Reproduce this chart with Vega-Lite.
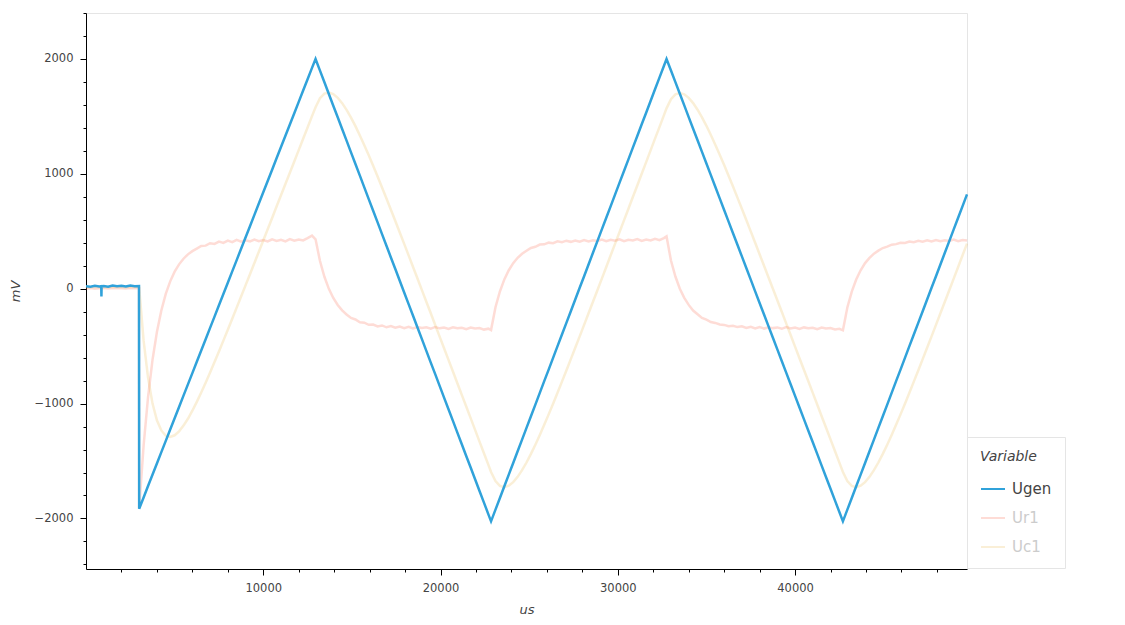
{
  "$schema": "https://vega.github.io/schema/vega-lite/v6.json",
  "width": 881,
  "height": 556,
  "autosize": {"type": "none"},
  "padding": {"left": 86, "top": 13, "right": 158, "bottom": 56},
  "background": "white",
  "config": {
    "font": "DejaVu Sans",
    "view": {"stroke": "#e5e5e5", "strokeWidth": 1}
  },
  "data": {
    "values": [
      {"t": 0, "Ugen": 22, "Ur1": 2, "Uc1": 14},
      {"t": 250, "Ugen": 18, "Ur1": 6, "Uc1": 12},
      {"t": 500, "Ugen": 26, "Ur1": 0, "Uc1": 16},
      {"t": 750, "Ugen": 20, "Ur1": 4, "Uc1": 13},
      {"t": 860, "Ugen": 22, "Ur1": 3, "Uc1": 13},
      {"t": 870, "Ugen": -68, "Ur1": 3, "Uc1": 13},
      {"t": 880, "Ugen": 20, "Ur1": 3, "Uc1": 13},
      {"t": 1000, "Ugen": 24, "Ur1": 5, "Uc1": 15},
      {"t": 1250, "Ugen": 17, "Ur1": 1, "Uc1": 12},
      {"t": 1500, "Ugen": 28, "Ur1": 7, "Uc1": 17},
      {"t": 1750, "Ugen": 21, "Ur1": 3, "Uc1": 14},
      {"t": 2000, "Ugen": 25, "Ur1": 4, "Uc1": 15},
      {"t": 2250, "Ugen": 19, "Ur1": 2, "Uc1": 13},
      {"t": 2500, "Ugen": 27, "Ur1": 6, "Uc1": 16},
      {"t": 2750, "Ugen": 22, "Ur1": 4, "Uc1": 14},
      {"t": 2990, "Ugen": 24, "Ur1": 5, "Uc1": 15},
      {"t": 3000, "Ugen": -1915, "Ur1": -1915, "Uc1": 10},
      {"t": 3250, "Ugen": -1817, "Ur1": -1365, "Uc1": -452},
      {"t": 3500, "Ugen": -1718, "Ur1": -944, "Uc1": -774},
      {"t": 3750, "Ugen": -1620, "Ur1": -622, "Uc1": -998},
      {"t": 4000, "Ugen": -1522, "Ur1": -377, "Uc1": -1145},
      {"t": 4250, "Ugen": -1423, "Ur1": -189, "Uc1": -1234},
      {"t": 4500, "Ugen": -1325, "Ur1": -45, "Uc1": -1280},
      {"t": 4750, "Ugen": -1226, "Ur1": 64, "Uc1": -1290},
      {"t": 5000, "Ugen": -1128, "Ur1": 148, "Uc1": -1276},
      {"t": 5250, "Ugen": -1030, "Ur1": 212, "Uc1": -1242},
      {"t": 5500, "Ugen": -931, "Ur1": 261, "Uc1": -1192},
      {"t": 5750, "Ugen": -833, "Ur1": 299, "Uc1": -1132},
      {"t": 6000, "Ugen": -735, "Ur1": 327, "Uc1": -1062},
      {"t": 6250, "Ugen": -636, "Ur1": 349, "Uc1": -985},
      {"t": 6500, "Ugen": -538, "Ur1": 372, "Uc1": -904},
      {"t": 6750, "Ugen": -440, "Ur1": 375, "Uc1": -819},
      {"t": 7000, "Ugen": -341, "Ur1": 396, "Uc1": -729},
      {"t": 7250, "Ugen": -243, "Ur1": 390, "Uc1": -639},
      {"t": 7500, "Ugen": -144, "Ur1": 410, "Uc1": -546},
      {"t": 7750, "Ugen": -46, "Ur1": 398, "Uc1": -452},
      {"t": 8000, "Ugen": 52, "Ur1": 418, "Uc1": -357},
      {"t": 8250, "Ugen": 151, "Ur1": 405, "Uc1": -261},
      {"t": 8500, "Ugen": 249, "Ur1": 425, "Uc1": -165},
      {"t": 8750, "Ugen": 348, "Ur1": 410, "Uc1": -68},
      {"t": 9000, "Ugen": 446, "Ur1": 422, "Uc1": 29},
      {"t": 9250, "Ugen": 544, "Ur1": 412, "Uc1": 126},
      {"t": 9500, "Ugen": 643, "Ur1": 428, "Uc1": 224},
      {"t": 9750, "Ugen": 741, "Ur1": 414, "Uc1": 322},
      {"t": 10000, "Ugen": 839, "Ur1": 424, "Uc1": 419},
      {"t": 10250, "Ugen": 938, "Ur1": 411, "Uc1": 518},
      {"t": 10500, "Ugen": 1036, "Ur1": 430, "Uc1": 616},
      {"t": 10750, "Ugen": 1135, "Ur1": 416, "Uc1": 715},
      {"t": 11000, "Ugen": 1233, "Ur1": 426, "Uc1": 813},
      {"t": 11250, "Ugen": 1331, "Ur1": 412, "Uc1": 911},
      {"t": 11500, "Ugen": 1430, "Ur1": 432, "Uc1": 1010},
      {"t": 11750, "Ugen": 1528, "Ur1": 418, "Uc1": 1108},
      {"t": 12000, "Ugen": 1626, "Ur1": 428, "Uc1": 1206},
      {"t": 12250, "Ugen": 1725, "Ur1": 420, "Uc1": 1305},
      {"t": 12500, "Ugen": 1823, "Ur1": 440, "Uc1": 1403},
      {"t": 12750, "Ugen": 1922, "Ur1": 462, "Uc1": 1502},
      {"t": 12950, "Ugen": 2000, "Ur1": 430, "Uc1": 1580},
      {"t": 13200, "Ugen": 1898, "Ur1": 241, "Uc1": 1658},
      {"t": 13450, "Ugen": 1797, "Ur1": 104, "Uc1": 1698},
      {"t": 13700, "Ugen": 1695, "Ur1": -1, "Uc1": 1708},
      {"t": 13950, "Ugen": 1593, "Ur1": -81, "Uc1": 1694},
      {"t": 14200, "Ugen": 1492, "Ur1": -142, "Uc1": 1662},
      {"t": 14450, "Ugen": 1390, "Ur1": -189, "Uc1": 1615},
      {"t": 14700, "Ugen": 1289, "Ur1": -224, "Uc1": 1557},
      {"t": 14950, "Ugen": 1187, "Ur1": -255, "Uc1": 1489},
      {"t": 15200, "Ugen": 1085, "Ur1": -268, "Uc1": 1415},
      {"t": 15450, "Ugen": 984, "Ur1": -292, "Uc1": 1334},
      {"t": 15700, "Ugen": 882, "Ur1": -296, "Uc1": 1249},
      {"t": 15950, "Ugen": 780, "Ur1": -314, "Uc1": 1161},
      {"t": 16200, "Ugen": 679, "Ur1": -312, "Uc1": 1070},
      {"t": 16450, "Ugen": 577, "Ur1": -328, "Uc1": 976},
      {"t": 16700, "Ugen": 475, "Ur1": -320, "Uc1": 881},
      {"t": 16950, "Ugen": 374, "Ur1": -336, "Uc1": 785},
      {"t": 17200, "Ugen": 272, "Ur1": -326, "Uc1": 687},
      {"t": 17450, "Ugen": 171, "Ur1": -340, "Uc1": 589},
      {"t": 17700, "Ugen": 69, "Ur1": -330, "Uc1": 489},
      {"t": 17950, "Ugen": -33, "Ur1": -344, "Uc1": 390},
      {"t": 18200, "Ugen": -134, "Ur1": -332, "Uc1": 290},
      {"t": 18450, "Ugen": -236, "Ur1": -346, "Uc1": 189},
      {"t": 18700, "Ugen": -338, "Ur1": -334, "Uc1": 89},
      {"t": 18950, "Ugen": -439, "Ur1": -342, "Uc1": -12},
      {"t": 19200, "Ugen": -541, "Ur1": -336, "Uc1": -113},
      {"t": 19450, "Ugen": -643, "Ur1": -348, "Uc1": -214},
      {"t": 19700, "Ugen": -744, "Ur1": -333, "Uc1": -316},
      {"t": 19950, "Ugen": -846, "Ur1": -345, "Uc1": -417},
      {"t": 20200, "Ugen": -948, "Ur1": -338, "Uc1": -518},
      {"t": 20450, "Ugen": -1049, "Ur1": -350, "Uc1": -620},
      {"t": 20700, "Ugen": -1151, "Ur1": -336, "Uc1": -721},
      {"t": 20950, "Ugen": -1253, "Ur1": -344, "Uc1": -823},
      {"t": 21200, "Ugen": -1354, "Ur1": -340, "Uc1": -924},
      {"t": 21450, "Ugen": -1456, "Ur1": -352, "Uc1": -1026},
      {"t": 21700, "Ugen": -1557, "Ur1": -338, "Uc1": -1127},
      {"t": 21950, "Ugen": -1659, "Ur1": -346, "Uc1": -1229},
      {"t": 22200, "Ugen": -1761, "Ur1": -342, "Uc1": -1331},
      {"t": 22450, "Ugen": -1862, "Ur1": -356, "Uc1": -1432},
      {"t": 22700, "Ugen": -1964, "Ur1": -348, "Uc1": -1534},
      {"t": 22850, "Ugen": -2025, "Ur1": -360, "Uc1": -1595},
      {"t": 23100, "Ugen": -1923, "Ur1": -161, "Uc1": -1675},
      {"t": 23350, "Ugen": -1822, "Ur1": -24, "Uc1": -1716},
      {"t": 23600, "Ugen": -1720, "Ur1": 81, "Uc1": -1728},
      {"t": 23850, "Ugen": -1618, "Ur1": 161, "Uc1": -1715},
      {"t": 24100, "Ugen": -1517, "Ur1": 222, "Uc1": -1684},
      {"t": 24350, "Ugen": -1415, "Ur1": 269, "Uc1": -1638},
      {"t": 24600, "Ugen": -1314, "Ur1": 304, "Uc1": -1580},
      {"t": 24850, "Ugen": -1212, "Ur1": 330, "Uc1": -1513},
      {"t": 25100, "Ugen": -1110, "Ur1": 355, "Uc1": -1438},
      {"t": 25350, "Ugen": -1009, "Ur1": 365, "Uc1": -1358},
      {"t": 25600, "Ugen": -907, "Ur1": 384, "Uc1": -1274},
      {"t": 25850, "Ugen": -805, "Ur1": 386, "Uc1": -1185},
      {"t": 26100, "Ugen": -704, "Ur1": 401, "Uc1": -1094},
      {"t": 26350, "Ugen": -602, "Ur1": 396, "Uc1": -1001},
      {"t": 26600, "Ugen": -500, "Ur1": 412, "Uc1": -906},
      {"t": 26850, "Ugen": -399, "Ur1": 404, "Uc1": -809},
      {"t": 27100, "Ugen": -297, "Ur1": 418, "Uc1": -712},
      {"t": 27350, "Ugen": -196, "Ur1": 408, "Uc1": -613},
      {"t": 27600, "Ugen": -94, "Ur1": 420, "Uc1": -514},
      {"t": 27850, "Ugen": 8, "Ur1": 410, "Uc1": -415},
      {"t": 28100, "Ugen": 109, "Ur1": 424, "Uc1": -315},
      {"t": 28350, "Ugen": 211, "Ur1": 412, "Uc1": -214},
      {"t": 28600, "Ugen": 313, "Ur1": 422, "Uc1": -114},
      {"t": 28850, "Ugen": 414, "Ur1": 415, "Uc1": -13},
      {"t": 29100, "Ugen": 516, "Ur1": 428, "Uc1": 88},
      {"t": 29350, "Ugen": 618, "Ur1": 413, "Uc1": 189},
      {"t": 29600, "Ugen": 719, "Ur1": 425, "Uc1": 291},
      {"t": 29850, "Ugen": 821, "Ur1": 418, "Uc1": 392},
      {"t": 30100, "Ugen": 923, "Ur1": 430, "Uc1": 493},
      {"t": 30350, "Ugen": 1024, "Ur1": 414, "Uc1": 595},
      {"t": 30600, "Ugen": 1126, "Ur1": 426, "Uc1": 696},
      {"t": 30850, "Ugen": 1228, "Ur1": 420, "Uc1": 798},
      {"t": 31100, "Ugen": 1329, "Ur1": 432, "Uc1": 899},
      {"t": 31350, "Ugen": 1431, "Ur1": 416, "Uc1": 1001},
      {"t": 31600, "Ugen": 1532, "Ur1": 428, "Uc1": 1102},
      {"t": 31850, "Ugen": 1634, "Ur1": 420, "Uc1": 1204},
      {"t": 32100, "Ugen": 1736, "Ur1": 434, "Uc1": 1306},
      {"t": 32350, "Ugen": 1837, "Ur1": 422, "Uc1": 1407},
      {"t": 32600, "Ugen": 1939, "Ur1": 440, "Uc1": 1509},
      {"t": 32750, "Ugen": 2000, "Ur1": 455, "Uc1": 1570},
      {"t": 33000, "Ugen": 1899, "Ur1": 245, "Uc1": 1650},
      {"t": 33250, "Ugen": 1798, "Ur1": 106, "Uc1": 1692},
      {"t": 33500, "Ugen": 1697, "Ur1": 0, "Uc1": 1704},
      {"t": 33750, "Ugen": 1596, "Ur1": -80, "Uc1": 1692},
      {"t": 34000, "Ugen": 1494, "Ur1": -141, "Uc1": 1661},
      {"t": 34250, "Ugen": 1393, "Ur1": -190, "Uc1": 1616},
      {"t": 34500, "Ugen": 1292, "Ur1": -222, "Uc1": 1558},
      {"t": 34750, "Ugen": 1191, "Ur1": -254, "Uc1": 1492},
      {"t": 35000, "Ugen": 1090, "Ur1": -270, "Uc1": 1418},
      {"t": 35250, "Ugen": 989, "Ur1": -290, "Uc1": 1338},
      {"t": 35500, "Ugen": 888, "Ur1": -298, "Uc1": 1254},
      {"t": 35750, "Ugen": 786, "Ur1": -312, "Uc1": 1166},
      {"t": 36000, "Ugen": 685, "Ur1": -315, "Uc1": 1076},
      {"t": 36250, "Ugen": 584, "Ur1": -326, "Uc1": 983},
      {"t": 36500, "Ugen": 483, "Ur1": -322, "Uc1": 889},
      {"t": 36750, "Ugen": 382, "Ur1": -334, "Uc1": 793},
      {"t": 37000, "Ugen": 281, "Ur1": -328, "Uc1": 696},
      {"t": 37250, "Ugen": 180, "Ur1": -342, "Uc1": 598},
      {"t": 37500, "Ugen": 79, "Ur1": -332, "Uc1": 499},
      {"t": 37750, "Ugen": -23, "Ur1": -345, "Uc1": 400},
      {"t": 38000, "Ugen": -124, "Ur1": -334, "Uc1": 300},
      {"t": 38250, "Ugen": -225, "Ur1": -347, "Uc1": 200},
      {"t": 38500, "Ugen": -326, "Ur1": -335, "Uc1": 100},
      {"t": 38750, "Ugen": -427, "Ur1": -343, "Uc1": 0},
      {"t": 39000, "Ugen": -528, "Ur1": -337, "Uc1": -101},
      {"t": 39250, "Ugen": -629, "Ur1": -349, "Uc1": -201},
      {"t": 39500, "Ugen": -731, "Ur1": -334, "Uc1": -302},
      {"t": 39750, "Ugen": -832, "Ur1": -346, "Uc1": -403},
      {"t": 40000, "Ugen": -933, "Ur1": -339, "Uc1": -504},
      {"t": 40250, "Ugen": -1034, "Ur1": -351, "Uc1": -605},
      {"t": 40500, "Ugen": -1135, "Ur1": -337, "Uc1": -706},
      {"t": 40750, "Ugen": -1236, "Ur1": -345, "Uc1": -806},
      {"t": 41000, "Ugen": -1337, "Ur1": -341, "Uc1": -907},
      {"t": 41250, "Ugen": -1438, "Ur1": -353, "Uc1": -1008},
      {"t": 41500, "Ugen": -1540, "Ur1": -339, "Uc1": -1110},
      {"t": 41750, "Ugen": -1641, "Ur1": -347, "Uc1": -1211},
      {"t": 42000, "Ugen": -1742, "Ur1": -343, "Uc1": -1312},
      {"t": 42250, "Ugen": -1843, "Ur1": -355, "Uc1": -1413},
      {"t": 42500, "Ugen": -1944, "Ur1": -349, "Uc1": -1514},
      {"t": 42700, "Ugen": -2025, "Ur1": -362, "Uc1": -1595},
      {"t": 42950, "Ugen": -1923, "Ur1": -163, "Uc1": -1675},
      {"t": 43200, "Ugen": -1822, "Ur1": -26, "Uc1": -1716},
      {"t": 43450, "Ugen": -1720, "Ur1": 80, "Uc1": -1728},
      {"t": 43700, "Ugen": -1618, "Ur1": 160, "Uc1": -1715},
      {"t": 43950, "Ugen": -1517, "Ur1": 223, "Uc1": -1684},
      {"t": 44200, "Ugen": -1415, "Ur1": 268, "Uc1": -1638},
      {"t": 44450, "Ugen": -1314, "Ur1": 305, "Uc1": -1580},
      {"t": 44700, "Ugen": -1212, "Ur1": 331, "Uc1": -1513},
      {"t": 44950, "Ugen": -1110, "Ur1": 354, "Uc1": -1438},
      {"t": 45200, "Ugen": -1009, "Ur1": 366, "Uc1": -1358},
      {"t": 45450, "Ugen": -907, "Ur1": 383, "Uc1": -1274},
      {"t": 45700, "Ugen": -805, "Ur1": 388, "Uc1": -1185},
      {"t": 45950, "Ugen": -704, "Ur1": 400, "Uc1": -1094},
      {"t": 46200, "Ugen": -602, "Ur1": 398, "Uc1": -1001},
      {"t": 46450, "Ugen": -500, "Ur1": 411, "Uc1": -906},
      {"t": 46700, "Ugen": -399, "Ur1": 405, "Uc1": -809},
      {"t": 46950, "Ugen": -297, "Ur1": 417, "Uc1": -712},
      {"t": 47200, "Ugen": -196, "Ur1": 409, "Uc1": -613},
      {"t": 47450, "Ugen": -94, "Ur1": 421, "Uc1": -514},
      {"t": 47700, "Ugen": 8, "Ur1": 411, "Uc1": -415},
      {"t": 47950, "Ugen": 109, "Ur1": 423, "Uc1": -315},
      {"t": 48200, "Ugen": 211, "Ur1": 413, "Uc1": -214},
      {"t": 48450, "Ugen": 313, "Ur1": 421, "Uc1": -114},
      {"t": 48700, "Ugen": 414, "Ur1": 416, "Uc1": -13},
      {"t": 48950, "Ugen": 516, "Ur1": 427, "Uc1": 88},
      {"t": 49200, "Ugen": 618, "Ur1": 414, "Uc1": 189},
      {"t": 49450, "Ugen": 719, "Ur1": 424, "Uc1": 291},
      {"t": 49700, "Ugen": 821, "Ur1": 419, "Uc1": 392}
    ]
  },
  "transform": [{"fold": ["Ugen", "Ur1", "Uc1"], "as": ["Variable", "value"]}],
  "encoding": {
    "x": {
      "field": "t",
      "type": "quantitative",
      "scale": {"domain": [0, 49700], "nice": false, "zero": false},
      "axis": {
        "title": "us",
        "values": [2000, 4000, 6000, 8000, 10000, 12000, 14000, 16000, 18000, 20000, 22000, 24000, 26000, 28000, 30000, 32000, 34000, 36000, 38000, 40000, 42000, 44000, 46000, 48000],
        "labelExpr": "datum.value % 10000 === 0 ? datum.label : ''",
        "format": "d",
        "grid": false,
        "domainColor": "#000000",
        "tickColor": "#000000",
        "tickSize": {"condition": {"test": "datum.value % 10000 === 0", "value": 6}, "value": 3},
        "labelPadding": 7,
        "labelColor": "#444444",
        "labelFontSize": 11.5,
        "labelFlush": false,
        "titleFontSize": 13,
        "titleFontStyle": "italic",
        "titleFontWeight": "normal",
        "titleColor": "#444444",
        "titlePadding": 10
      }
    },
    "y": {
      "field": "value",
      "type": "quantitative",
      "scale": {"domain": [-2440, 2400], "nice": false, "zero": false},
      "axis": {
        "title": "mV",
        "values": [-2400, -2200, -2000, -1800, -1600, -1400, -1200, -1000, -800, -600, -400, -200, 0, 200, 400, 600, 800, 1000, 1200, 1400, 1600, 1800, 2000, 2200, 2400],
        "labelExpr": "datum.value % 1000 === 0 ? datum.label : ''",
        "format": "d",
        "grid": false,
        "domainColor": "#000000",
        "tickColor": "#000000",
        "tickSize": {"condition": {"test": "datum.value % 1000 === 0", "value": 6}, "value": 3},
        "labelPadding": 7,
        "labelColor": "#444444",
        "labelFontSize": 11.5,
        "labelFlush": false,
        "titleFontSize": 13,
        "titleFontStyle": "italic",
        "titleFontWeight": "normal",
        "titleColor": "#444444",
        "titlePadding": 12
      }
    },
    "color": {
      "field": "Variable",
      "type": "nominal",
      "scale": {
        "domain": ["Ugen", "Ur1", "Uc1"],
        "range": ["#30a2da", "rgba(252,79,48,0.2)", "rgba(229,174,56,0.2)"]
      },
      "legend": {
        "title": "Variable",
        "orient": "none",
        "legendX": 881,
        "legendY": 424,
        "padding": 13,
        "fillColor": "white",
        "strokeColor": "#e5e5e5",
        "titleFontSize": 14,
        "titleFontStyle": "italic",
        "titleFontWeight": "normal",
        "titleColor": "#444444",
        "titlePadding": 12,
        "labelFontSize": 15,
        "labelColor": "#444444",
        "labelOffset": 6,
        "symbolType": "stroke",
        "symbolSize": 576,
        "symbolStrokeWidth": 2,
        "rowPadding": 8,
        "encode": {
          "labels": {"update": {"fill": {"signal": "datum.value === 'Ugen' ? '#444444' : '#cccccc'"}}}
        }
      }
    }
  },
  "layer": [
    {
      "transform": [{"filter": "datum.Variable !== 'Ugen'"}],
      "mark": {"type": "line", "strokeWidth": 2.5}
    },
    {
      "transform": [{"filter": "datum.Variable === 'Ugen'"}],
      "mark": {"type": "line", "strokeWidth": 2.5}
    }
  ]
}
